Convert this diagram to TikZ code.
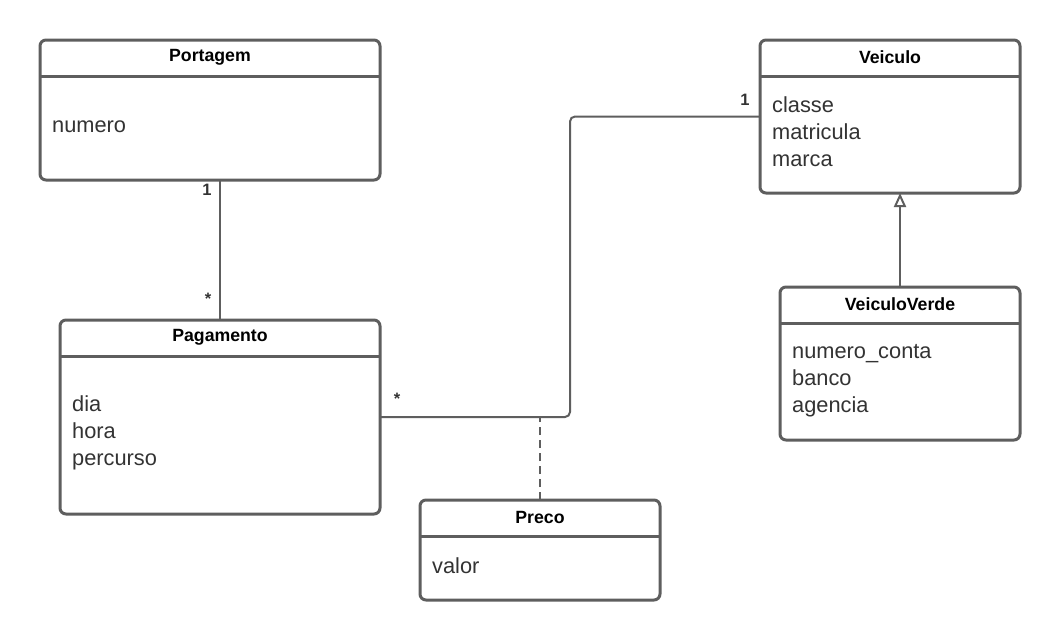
\documentclass[tikz,border=0pt]{standalone}
\usepackage{fontspec}
\setmainfont{Liberation Sans}
\usetikzlibrary{arrows.meta,calc}
\definecolor{lc}{HTML}{5E5E5E}
\definecolor{tc}{HTML}{333333}
\begin{document}
\begin{tikzpicture}[x=1pt,y=-1pt,
  box/.style={draw=lc, line width=3pt, rounded corners=6pt, anchor=north west, inner sep=0pt, outer sep=0pt, fill=white},
  hdr/.style={draw=lc, line width=3pt},
  ttl/.style={font=\fontsize{17.7}{20}\selectfont\bfseries, text=black, inner sep=0pt},
  attr/.style={font=\fontsize{21.8}{26.8}\selectfont, text=tc, align=left, anchor=west, inner sep=0pt},
  conn/.style={draw=lc, line width=2pt},
  mult/.style={font=\fontsize{16.5}{18}\selectfont\bfseries, text=tc, inner sep=0pt}
]
\useasboundingbox[fill=white] (0,0) rectangle (1060,640);

% Portagem
\node[box, minimum width=340pt, minimum height=140pt] (p) at (40,40) {};
\draw[hdr] (40,76) -- (380,76);
\node[ttl] (pt) at (210,57) {Portagem};
\node[attr] (pa) at (52,127) {numero};

% Veiculo
\node[box, minimum width=260pt, minimum height=153pt] (v) at (760,40) {};
\draw[hdr] (760,76) -- (1020,76);
\node[ttl] (vt) at (890,57) {Veiculo};
\node[attr] (va) at (772,132) {classe\\matricula\\marca};

% VeiculoVerde
\node[box, minimum width=240pt, minimum height=153pt] (vv) at (780,287) {};
\draw[hdr] (780,323) -- (1020,323);
\node[ttl] (vvt) at (900,304) {VeiculoVerde};
\node[attr] (vva) at (792,381) {numero\_conta\\banco\\agencia};

% Pagamento
\node[box, minimum width=320pt, minimum height=194pt] (pg) at (60,320) {};
\draw[hdr] (60,356) -- (380,356);
\node[ttl] (pgt) at (220,337) {Pagamento};
\node[attr] (pga) at (72,433) {dia\\hora\\percurso};

% Preco
\node[box, minimum width=240pt, minimum height=100pt] (pr) at (420,500) {};
\draw[hdr] (420,536) -- (660,536);
\node[ttl] (prt) at (540,517) {Preco};
\node[attr] (pra) at (432,566) {valor};

% connectors
\draw[conn] (pg.north |- p.south) -- (pg.north);
\node[mult] (m1) at (207,190) {1};
\node[mult] (m2) at (208,299) {*};

\draw[conn, rounded corners=5pt] (pg.east) -| ($(v.west)+(-190,0)$) -- (v.west);
\node[mult] (m3) at (397,399) {*};
\node[mult] (m4) at (745,100) {1};

\draw[conn, dashed, dash pattern=on 8pt off 5pt] (pr.north) -- (pr.north |- pg.east);

\draw[conn, -{Triangle[open, length=14pt, width=12pt, line width=2pt]}] (vv.north) -- (vv.north |- v.south);
\end{tikzpicture}
\end{document}
